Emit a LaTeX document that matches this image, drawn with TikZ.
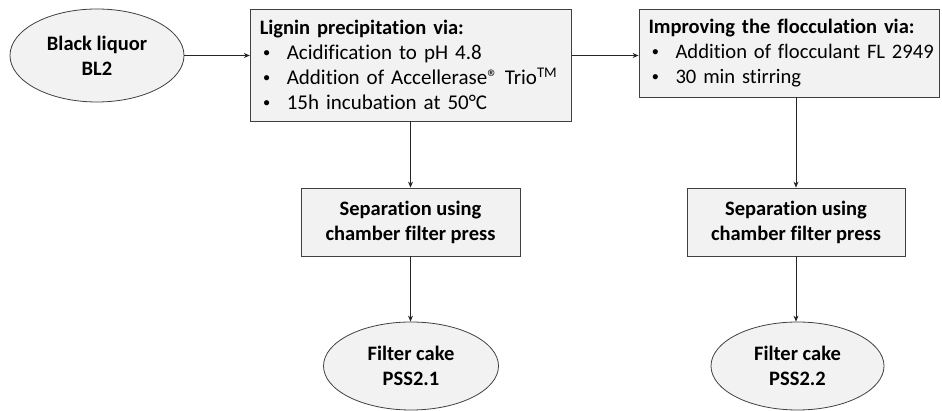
\documentclass[tikz,border=0pt]{standalone}
\usepackage{fontspec}
\setmainfont{Carlito}[Ligatures=NoCommon]
\newfontfamily\bulletfont{Liberation Sans}
\usetikzlibrary{arrows.meta,shapes.geometric}
\definecolor{boxfill}{HTML}{F2F2F2}
\definecolor{edge}{HTML}{404040}
\newcommand{\bitem}[1]{\mbox{\hspace*{3.5pt}\makebox[23.5pt][l]{\bulletfont\fontsize{19}{25}\selectfont •}#1}}
\newcommand{\hd}[1]{\mbox{\bfseries\fontsize{20.5}{25}\selectfont #1}}
\begin{document}
\begin{tikzpicture}[x=1pt,y=1pt,
  every node/.style={font=\fontsize{20.5}{25}\selectfont},
  box/.style={draw=edge, fill=boxfill, line width=0.8pt, rectangle, inner ysep=0pt},
  listbox/.style={box, align=left, inner xsep=9.5pt},
  sepbox/.style={box, align=center, inner xsep=0pt, font=\bfseries\fontsize{20.5}{25}\selectfont},
  oval/.style={draw=edge, fill=boxfill, ellipse, line width=0.8pt, inner sep=0pt,
    align=center, font=\bfseries\fontsize{20.5}{25}\selectfont},
  arr/.style={-{Stealth[length=6pt,width=5pt]}, line width=0.8pt, black!85}]
\useasboundingbox (0,0) rectangle (942,411);

\node[oval, minimum width=174pt, minimum height=93pt] (bl) at (97,355.5) {Black liquor\\BL2};

\node[listbox, text width=302pt, minimum height=112pt, font=\fontsize{21}{25}\selectfont] (b1) at (410.75,346)
  {\hd{Lignin precipitation via:}\\
   \bitem{Acidification to pH 4.8}\\
   \bitem{Addition of Accellerase® Trio\textsuperscript{TM}}\\
   \bitem{15h incubation at 50°C}};

\node[listbox, text width=281pt, minimum height=88pt, font=\fontsize{20.6}{25}\selectfont] (b2) at (789,358)
  {\hd{Improving the flocculation via:}\\
   \bitem{Addition of flocculant FL 2949}\\
   \bitem{30 min stirring}};

\node[sepbox, minimum width=219pt, minimum height=68pt] (s1) at (410.5,189)
  {Separation using\\chamber filter press};
\node[sepbox, minimum width=218pt, minimum height=68pt] (s2) at (796,189)
  {Separation using\\chamber filter press};

\node[oval, minimum width=175pt, minimum height=88pt] (c1) at (411,45) {Filter cake\\PSS2.1};
\node[oval, minimum width=173pt, minimum height=88pt] (c2) at (797.5,45) {Filter cake\\PSS2.2};

\draw[arr] (bl.east) -- (bl.east -| b1.west);
\draw[arr] (b1.east |- bl.east) -- (b2.west |- bl.east);
\draw[arr] (s1.north |- b1.south) -- (s1.north);
\draw[arr] (s1.south) -- (s1.south |- c1.north);
\draw[arr] (s2.north |- b2.south) -- (s2.north);
\draw[arr] (s2.south) -- (s2.south |- c2.north);
\end{tikzpicture}
\end{document}
